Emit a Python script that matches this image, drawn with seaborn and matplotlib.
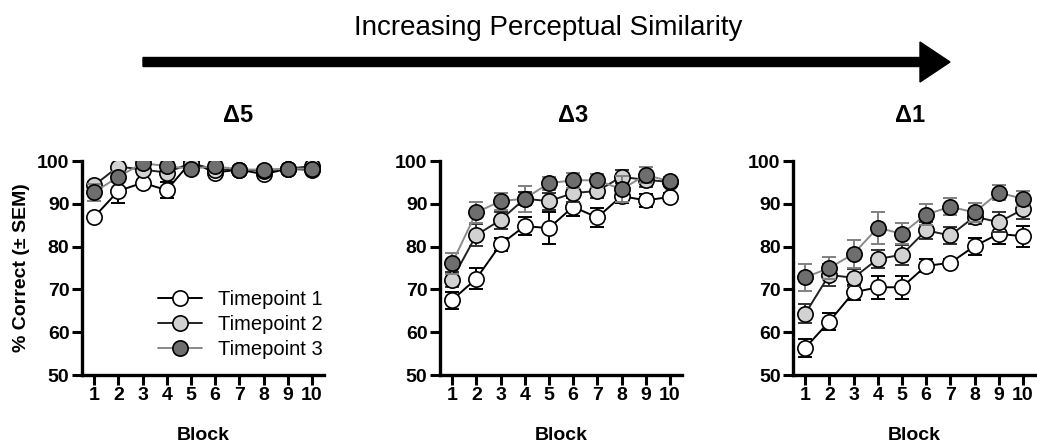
import numpy as np
import pandas as pd
import matplotlib
matplotlib.use('Agg')
import matplotlib.pyplot as plt
import seaborn as sns
from matplotlib.patches import FancyArrow

# --- data ---
blocks = list(range(1, 11))
conditions = ['\u03945', '\u03943', '\u03941']
timepoints = ['Timepoint 1', 'Timepoint 2', 'Timepoint 3']

# delta 5
d5_t1 = [86.9, 93.0, 94.9, 93.2, 99.8, 97.3, 98.0, 96.9, 98.2, 97.9]
d5_t2 = [94.3, 98.7, 98.0, 97.3, 99.5, 98.0, 98.0, 97.7, 98.2, 98.8]
d5_t3 = [92.7, 96.3, 99.5, 98.8, 98.2, 98.8, 98.0, 98.0, 98.2, 98.2]
d5_t1_sem = [0.6, 2.8, 0.6, 1.8, 0.4, 0.6, 0.4, 0.8, 0.5, 0.6]
d5_t2_sem = [0.8, 0.5, 0.5, 0.6, 0.4, 0.5, 0.4, 0.6, 0.4, 0.4]
d5_t3_sem = [2.0, 1.2, 0.5, 0.6, 0.5, 0.5, 0.4, 0.5, 0.4, 0.4]

# delta 3
d3_t1 = [67.5, 72.5, 80.5, 84.8, 84.3, 89.3, 86.8, 91.8, 90.8, 91.6]
d3_t2 = [72.3, 82.7, 86.2, 91.2, 90.6, 92.5, 93.0, 96.3, 95.6, 95.1]
d3_t3 = [76.1, 88.0, 90.6, 91.2, 94.8, 95.5, 95.5, 93.4, 96.7, 95.3]
d3_t1_sem = [2.0, 2.4, 1.5, 2.1, 3.8, 2.1, 2.3, 1.5, 1.5, 1.0]
d3_t2_sem = [1.8, 2.5, 2.0, 1.5, 2.0, 2.0, 1.7, 1.5, 1.7, 1.0]
d3_t3_sem = [2.5, 2.4, 2.0, 3.0, 1.5, 1.8, 1.5, 3.0, 1.8, 1.0]

# delta 1
d1_t1 = [56.3, 62.5, 69.3, 70.5, 70.5, 75.5, 76.2, 80.1, 83.0, 82.4]
d1_t2 = [64.3, 73.4, 72.7, 77.1, 78.1, 83.8, 82.6, 87.0, 85.7, 88.7]
d1_t3 = [72.8, 75.0, 78.3, 84.4, 83.0, 87.5, 89.3, 88.0, 92.6, 91.2]
d1_t1_sem = [2.0, 2.0, 1.7, 2.7, 2.7, 1.5, 0.8, 2.0, 2.5, 2.5]
d1_t2_sem = [2.2, 2.5, 2.0, 2.0, 2.3, 2.0, 2.0, 1.8, 2.3, 2.2]
d1_t3_sem = [3.1, 2.5, 3.3, 3.7, 2.5, 2.5, 2.0, 2.2, 1.8, 1.8]

means = [[d5_t1, d5_t2, d5_t3], [d3_t1, d3_t2, d3_t3], [d1_t1, d1_t2, d1_t3]]
sems = [[d5_t1_sem, d5_t2_sem, d5_t3_sem], [d3_t1_sem, d3_t2_sem, d3_t3_sem],
        [d1_t1_sem, d1_t2_sem, d1_t3_sem]]

# styling per timepoint
fills = ['white', '#d2d2d2', '#6e6e6e']
line_cols = ['black', '#222222', '#8a8a8a']
err_cols = ['black', '#333333', '#808080']

sns.set_style('ticks')
plt.rcParams['font.family'] = ['Liberation Sans', 'DejaVu Sans']
for key in ['text.color', 'axes.labelcolor', 'xtick.color', 'ytick.color', 'axes.edgecolor']:
    plt.rcParams[key] = 'black'

W, H = 1037, 445
fig = plt.figure(figsize=(W / 100, H / 100), dpi=100)

lefts = [82, 440, 793]
ax_w, top_px, bot_px = 242, 161, 375

for i, cond in enumerate(conditions):
    ax = fig.add_axes([lefts[i] / W, 1 - bot_px / H, ax_w / W, (bot_px - top_px) / H])
    for j, tp in enumerate(timepoints):
        df = pd.DataFrame({'Block': blocks, 'pc': means[i][j]})
        ax.errorbar(blocks, means[i][j], yerr=sems[i][j], fmt='none',
                    ecolor=err_cols[j], elinewidth=1.4, capsize=5, capthick=1.4, zorder=2 + j)
        sns.lineplot(data=df, x='Block', y='pc', ax=ax, color=line_cols[j], lw=1.4,
                     marker='o', markersize=11, markerfacecolor=fills[j],
                     markeredgecolor='black', markeredgewidth=1.2, zorder=3 + j,
                     label=tp if i == 0 else None, legend=False)
    ax.set_xlim(0.5, 10.5)
    ax.set_ylim(50, 100)
    ax.set_xticks(blocks)
    ax.set_yticks([50, 60, 70, 80, 90, 100])
    sns.despine(ax=ax)
    for s in ['left', 'bottom']:
        ax.spines[s].set_linewidth(2.4)
    ax.tick_params(width=2.2, length=7, labelsize=14, pad=2)
    for lab in ax.get_xticklabels() + ax.get_yticklabels():
        lab.set_fontweight('bold')
    ax.set_xlabel('Block', fontsize=14, fontweight='bold', labelpad=16)
    if i == 0:
        ax.set_ylabel('% Correct (\u00b1 SEM)', fontsize=14, fontweight='bold', labelpad=5)
        leg = ax.legend(loc='lower right', bbox_to_anchor=(1.07, -0.01), frameon=False,
                        fontsize=14.5, handlelength=2.2, handletextpad=0.8, labelspacing=0.3)
    else:
        ax.set_ylabel('')

# panel titles
title_x = [238, 573, 910]
for i, cond in enumerate(conditions):
    fig.text(title_x[i] / W, 1 - 115 / H, cond, ha='center', va='center',
             fontsize=17, fontweight='bold')

# top arrow and heading
over = fig.add_axes([0, 0, 1, 1])
over.set_xlim(0, W)
over.set_ylim(H, 0)
over.axis('off')
over.add_patch(FancyArrow(143, 62, 807, 0, width=9, head_width=40, head_length=30,
                          length_includes_head=True, color='black'))
over.text(548, 28, 'Increasing Perceptual Similarity', ha='center', va='center', fontsize=20)

fig.savefig('out.png', dpi=100)
